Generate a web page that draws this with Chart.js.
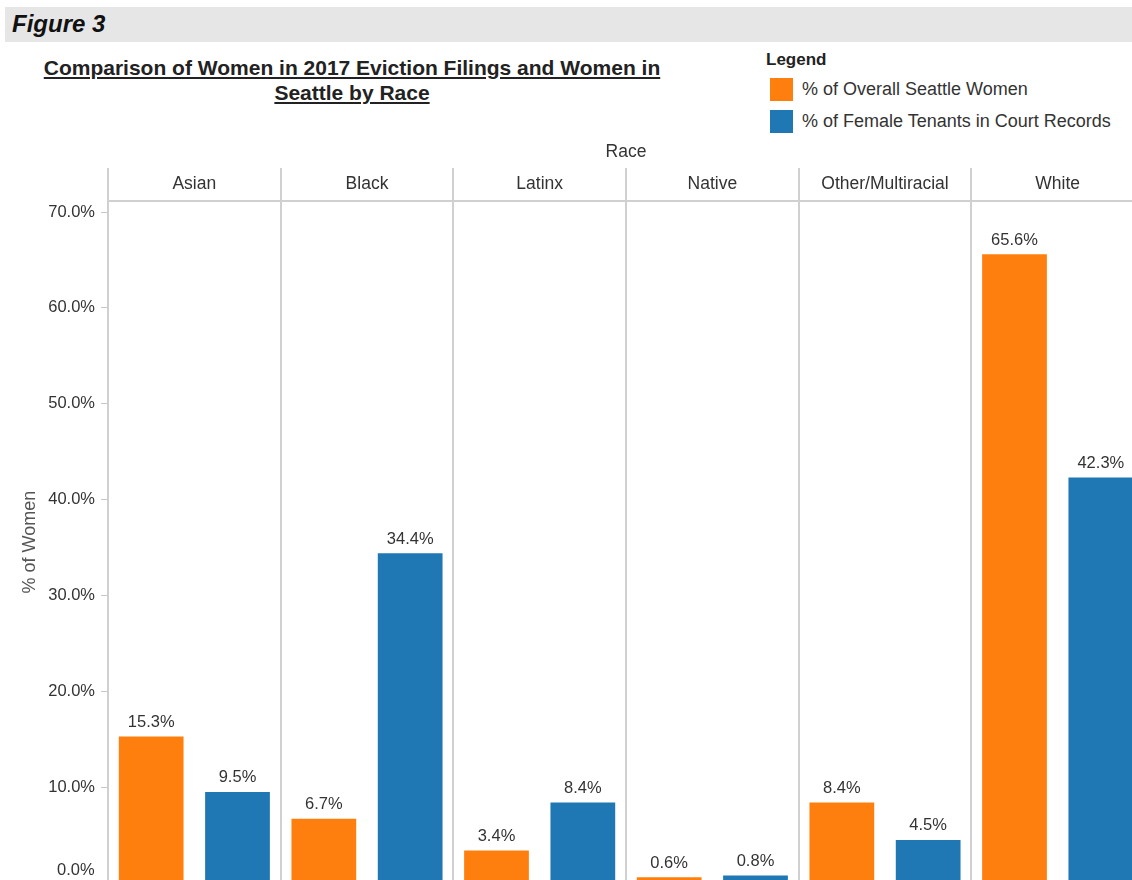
<!DOCTYPE html>
<html>
<head>
<meta charset="utf-8">
<script src="https://cdn.jsdelivr.net/npm/chart.js@4.4.1/dist/chart.umd.min.js"></script>
<style>
html, body { margin: 0; padding: 0; width: 1132px; height: 880px; overflow: hidden; background: #fff; font-family: "Liberation Sans", Arial, sans-serif; }
#fig { position: absolute; left: 5px; top: 7px; width: 1127px; height: 35px; background: #e6e6e6; }
#fig span { position: absolute; left: 7px; top: 3px; font-weight: bold; font-style: italic; font-size: 24px; color: #111; }
#title { position: absolute; left: 0; top: 55px; width: 704px; text-align: center; font-weight: bold; font-size: 21px; line-height: 25px; text-decoration: underline; color: #222; }
#legend { position: absolute; left: 766px; top: 51px; font-size: 18px; color: #333; }
#legend .lt { font-weight: bold; font-size: 17px; height: 18px; line-height: 18px; color: #222; }
#legend .li { display: flex; align-items: center; height: 23px; margin-top: 9px; }
#legend .sw { display: inline-block; width: 23px; height: 23px; margin: 0 9px 0 4px; }
#wrap { position: absolute; left: 0; top: 130px; width: 1144px; height: 769px; }
</style>
</head>
<body>
<div id="fig"><span>Figure 3</span></div>
<div id="title">Comparison of Women in 2017 Eviction Filings and Women in<br>Seattle by Race</div>
<div id="legend"><div class="lt">Legend</div></div>
<div id="wrap"><canvas id="chart"></canvas></div>
<script>
const races = ['Asian', 'Black', 'Latinx', 'Native', 'Other/Multiracial', 'White'];
const seattleWomen = [15.3, 6.7, 3.4, 0.6, 8.4, 65.6];
const courtTenants = [9.5, 34.4, 8.4, 0.8, 4.5, 42.3];
const seriesNames = ['% of Overall Seattle Women', '% of Female Tenants in Court Records'];
const seriesColors = ['#ff7f0e', '#1f77b4'];
const yTicks = [0, 10, 20, 30, 40, 50, 60, 70];

const FONT = '"Liberation Sans", Arial, sans-serif';

// legend sits outside the canvas, built from the same series
const legendEl = document.getElementById('legend');
seriesNames.forEach((name, i) => {
    const row = document.createElement('div');
    row.className = 'li';
    row.innerHTML = `<span class="sw" style="background:${seriesColors[i]}"></span>${name}`;
    legendEl.appendChild(row);
});

const pct = v => Number(v).toFixed(1) + '%';

const barLabels = {
    id: 'barLabels',
    afterDatasetsDraw(chart) {
        const ctx = chart.ctx;
        ctx.save();
        ctx.font = '16.5px ' + FONT;
        ctx.fillStyle = '#333';
        ctx.textAlign = 'center';
        ctx.textBaseline = 'bottom';
        chart.data.datasets.forEach((ds, i) => {
            chart.getDatasetMeta(i).data.forEach((bar, j) => {
                ctx.fillText(pct(ds.data[j]), bar.x, bar.y - 6);
            });
        });
        ctx.restore();
    }
};

const ctx = document.getElementById('chart').getContext('2d');
new Chart(ctx, {
    type: 'bar',
    data: {
        labels: races,
        datasets: [
            { label: seriesNames[0], data: seattleWomen, backgroundColor: seriesColors[0] },
            { label: seriesNames[1], data: courtTenants, backgroundColor: seriesColors[1] }
        ]
    },
    options: {
        responsive: true,
        maintainAspectRatio: false,
        animation: false,
        categoryPercentage: 1.0,
        barPercentage: 0.75,
        layout: { padding: 0 },
        plugins: {
            legend: { display: false },
            tooltip: { enabled: false }
        },
        scales: {
            x: {
                position: 'top',
                afterFit: s => { s.height = 71; },
                grid: { offset: true, color: '#d0d0d0', lineWidth: 2, tickLength: 33 },
                border: { color: '#d0d0d0', width: 2 },
                ticks: { color: '#333', font: { size: 17.5, family: FONT }, padding: -27, maxRotation: 0, autoSkip: false },
                title: { display: true, text: 'Race', color: '#333', font: { size: 17.5, family: FONT }, padding: { top: 12, bottom: 0 } }
            },
            y: {
                position: 'left',
                weight: 1,
                min: 0,
                max: 71.15,
                afterBuildTicks: s => { s.ticks = yTicks.filter(v => v > 0).map(v => ({ value: v })); },
                afterFit: s => { s.width = 108; },
                ticks: { callback: pct, color: '#333', font: { size: 16.5, family: FONT }, padding: 6 },
                grid: { drawOnChartArea: false, tickLength: 7, color: '#c8c8c8' },
                border: { color: '#d0d0d0', width: 2 },
                title: { display: true, text: '% of Women', color: '#555', font: { size: 18, family: FONT }, padding: { top: 19, bottom: 0 } }
            },
            // zero label is pulled up into view, as in the source figure
            y0: {
                position: 'left',
                weight: 0,
                min: 0,
                max: 71.15,
                afterBuildTicks: s => { s.ticks = [{ value: yTicks[0] }]; },
                afterFit: s => { s.width = 0; },
                ticks: { callback: pct, color: '#333', font: { size: 16.5, family: FONT }, mirror: true, padding: -51, labelOffset: -13 },
                grid: { display: false },
                border: { display: false }
            }
        }
    },
    plugins: [barLabels]
});
</script>
</body>
</html>
